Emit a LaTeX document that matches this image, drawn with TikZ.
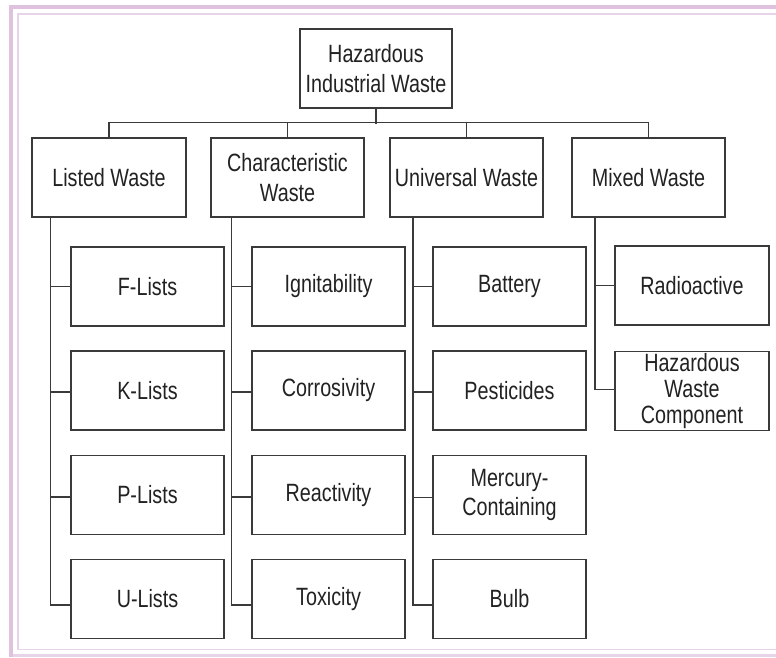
\documentclass[tikz,border=0pt]{standalone}
\usepackage{fontspec}
\setmainfont[FakeStretch=0.79]{Liberation Sans}
\definecolor{framepink}{RGB}{222,194,222}
\definecolor{framelight}{RGB}{232,212,232}
\definecolor{inkgray}{RGB}{58,58,58}
\definecolor{textgray}{RGB}{34,34,34}
\tikzset{
  box/.style={draw=inkgray, line width=1.3pt, fill=white, minimum width=153pt,
    minimum height=79pt, inner sep=0pt, align=center, text=textgray,
    font=\fontsize{25}{29.3}\selectfont},
  conn/.style={draw=inkgray, line width=1.3pt},
}
\begin{document}
\begin{tikzpicture}[x=1pt,y=-1pt]
\useasboundingbox (0,0) rectangle (776,657);

% page frame
\draw[framepink, line width=4.3pt, line join=miter] (11.2,657) -- (11.2,7.2) -- (776,7.2);
\draw[framelight, line width=1.6pt] (776,14) -- (18.2,14) -- (18.2,649.5) -- (776,649.5);
\draw[framelight, line width=2.6pt] (13.3,655.5) -- (776,655.5);

% root
\node[box, minimum width=152pt] (root) at (376,68.5) {Hazardous\\Industrial Waste};

% categories
\node[box, minimum width=154pt] (listed) at (109,177.5) {Listed Waste};
\node[box] (charw) at (287.5,177.5) {Characteristic\\Waste};
\node[box] (univ) at (466.5,177.5) {Universal Waste};
\node[box] (mixed) at (648.5,177.5) {Mixed Waste};

% listed waste
\node[box] (flist) at (147.5,286.5) {F-Lists};
\node[box] (klist) at (147.5,390.5) {K-Lists};
\node[box] (plist) at (147.5,495) {P-Lists};
\node[box] (ulist) at (147.5,599) {U-Lists};

% characteristic waste
\node[box] (ign) at (328.5,286.5) {Ignitability};
\node[box] (cor) at (328.5,390.5) {Corrosivity};
\node[box] (rea) at (328.5,495) {Reactivity};
\node[box] (tox) at (328.5,599) {Toxicity};

% universal waste
\node[box] (bat) at (509.5,286.5) {Battery};
\node[box] (pes) at (509.5,390.5) {Pesticides};
\node[box] (mer) at (509.5,495) {Mercury-\\Containing};
\node[box] (bulb) at (509.5,599) {Bulb};

% mixed waste
\node[box, minimum width=154pt] (rad) at (692,285.5) {Radioactive};
\node[box, minimum width=154pt, font=\fontsize{25}{26}\selectfont] (hwc) at (692,391) {Hazardous\\Waste\\Component};

% top-level bus
\draw[conn] (root.south) -- ++(0,15);
\draw[conn] (listed.north) -- ++(0,-15) -| (mixed.north);
\draw[conn] (charw.north) -- ++(0,-15);
\draw[conn] (univ.north) -- ++(0,-15);

% spines
\coordinate (sL) at ([xshift=19pt]listed.south west);
\coordinate (sC) at ([xshift=21pt]charw.south west);
\coordinate (sU) at ([xshift=23.5pt]univ.south west);
\coordinate (sM) at ([xshift=23.5pt]mixed.south west);

\draw[conn] (sL) |- ([yshift=-6pt]ulist.west);
\draw[conn] (flist.west) -- (flist.west -| sL);
\draw[conn] ([yshift=-1.5pt]klist.west) -- ([yshift=-1.5pt]klist.west -| sL);
\draw[conn] ([yshift=-2pt]plist.west) -- ([yshift=-2pt]plist.west -| sL);

\draw[conn] (sC) |- ([yshift=-6pt]tox.west);
\draw[conn] (ign.west) -- (ign.west -| sC);
\draw[conn] ([yshift=-1.5pt]cor.west) -- ([yshift=-1.5pt]cor.west -| sC);
\draw[conn] ([yshift=-2pt]rea.west) -- ([yshift=-2pt]rea.west -| sC);

\draw[conn] (sU) |- ([yshift=-6pt]bulb.west);
\draw[conn] (bat.west) -- (bat.west -| sU);
\draw[conn] ([yshift=-1.5pt]pes.west) -- ([yshift=-1.5pt]pes.west -| sU);
\draw[conn] ([yshift=-2.5pt]mer.west) -- ([yshift=-2.5pt]mer.west -| sU);

\draw[conn] (sM) |- ([yshift=1.5pt]hwc.west);
\draw[conn] (rad.west) -- (rad.west -| sM);
\end{tikzpicture}
\end{document}
